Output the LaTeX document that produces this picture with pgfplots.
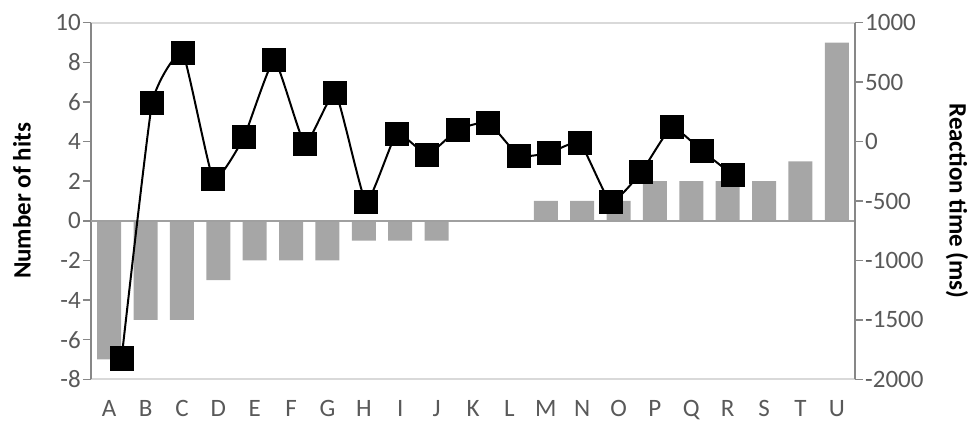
\documentclass[border=0pt]{standalone}
\usepackage{pgfplots}
\pgfplotsset{compat=1.18}
\usepackage{fontspec}
\setmainfont{Carlito}
\definecolor{bargray}{HTML}{A6A6A6}
\definecolor{gridgray}{HTML}{D9D9D9}
\definecolor{axisgray}{HTML}{878787}
\definecolor{zerogray}{HTML}{A0A0A0}
\definecolor{labgray}{HTML}{595959}
\begin{document}
\begin{tikzpicture}[font=\fontsize{25}{30}\selectfont]
\begin{axis}[
  scale only axis, width=764pt, height=356.6pt,
  xmin=-0.5, xmax=20.5, ymin=-8, ymax=10,
  axis y line*=left, axis x line*=box,
  separate axis lines,
  x axis line style={draw=gridgray, line width=2pt},
  y axis line style={draw=axisgray, line width=2pt},
  ytick={-8,-6,...,10},
  xtick={0,...,20},
  xticklabels={A,B,C,D,E,F,G,H,I,J,K,L,M,N,O,P,Q,R,S,T,U},
  x tick style={draw=none},
  y tick style={draw=axisgray, line width=1.5pt},
  tick align=outside, major tick length=8pt,
  ticklabel style={text=labgray},
  xticklabel style={inner sep=0pt, text height=16pt, text depth=0pt, yshift=-12.5pt},
  yticklabel style={inner sep=2pt},
  /pgf/number format/assume math mode=true,
  /pgf/number format/1000 sep={},
  ybar, bar width=24pt,
  ylabel={\bfseries Number of hits},
  ylabel style={at={(axis description cs:-0.0903,0.5)}, anchor=center, text=black},
]
\addplot[fill=bargray, draw=none] coordinates {
(0,-7) (1,-5) (2,-5) (3,-3) (4,-2) (5,-2) (6,-2) (7,-1) (8,-1) (9,-1)
(10,0) (11,0) (12,1) (13,1) (14,1) (15,2) (16,2) (17,2) (18,2) (19,3) (20,9)};
\draw[zerogray, line width=2pt] (axis cs:-0.5,0) -- (axis cs:20.5,0);
\end{axis}
\begin{axis}[
  scale only axis, width=764pt, height=356.6pt,
  xmin=-1, xmax=24, ymin=-2000, ymax=1000,
  axis y line*=right, axis x line=none,
  y axis line style={draw=axisgray, line width=2pt},
  ytick={-2000,-1500,...,1000},
  y tick style={draw=axisgray, line width=1.5pt},
  tick align=outside, major tick length=8pt,
  ticklabel style={text=labgray},
  yticklabel style={inner sep=2pt},
  /pgf/number format/assume math mode=true,
  /pgf/number format/1000 sep={},
  ylabel={\bfseries Reaction time (ms)},
  ylabel style={at={(axis description cs:1.1335,0.5)}, anchor=center, rotate=180, text=black},
]
\addplot[black, line width=2pt, smooth, tension=0.25, mark=square*, mark size=11pt, mark options={solid, fill=black}] coordinates {
(0,-1825) (1,325) (2,745) (3,-315) (4,35) (5,685) (6,-20) (7,410) (8,-510) (9,65)
(10,-110) (11,100) (12,160) (13,-120) (14,-95) (15,-10) (16,-510) (17,-260) (18,120) (19,-80) (20,-280)};
\end{axis}
\pgfresetboundingbox
\path[use as bounding box] (-91pt,-43.7pt) rectangle (882pt,379.3pt);
\end{tikzpicture}
\end{document}
